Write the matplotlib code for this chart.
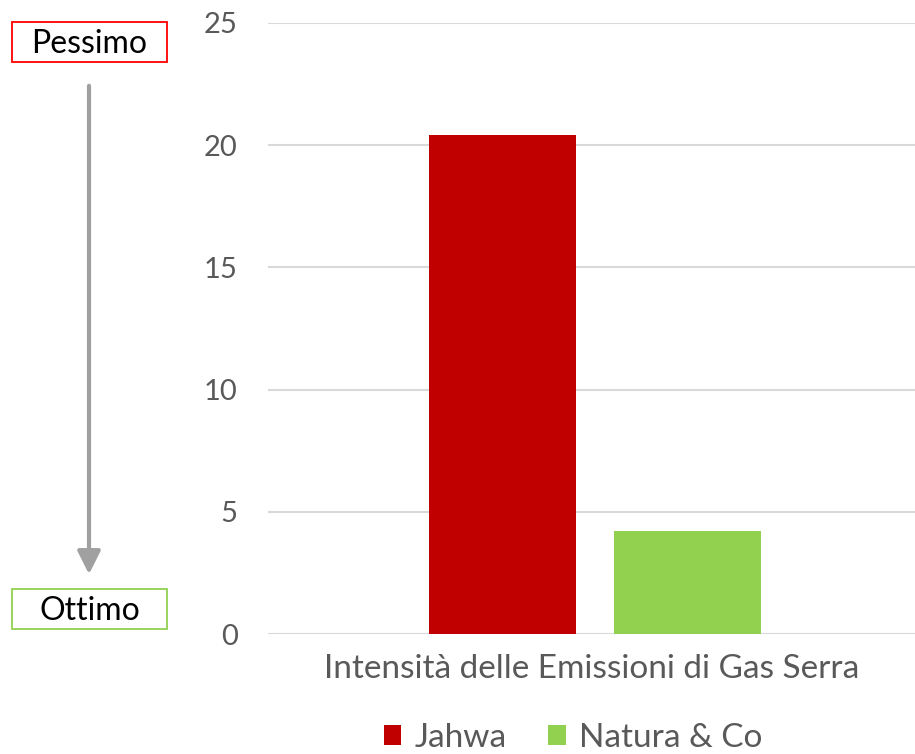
import matplotlib.pyplot as plt
from matplotlib.patches import FancyArrowPatch, Rectangle

plt.rcParams['font.family'] = ['Lato', 'DejaVu Sans']

category = 'Intensità delle Emissioni di Gas Serra'
companies = ['Jahwa', 'Natura & Co']
values = [20.4, 4.2]
colors = ['#c00000', '#92d050']
yticks = [0, 5, 10, 15, 20, 25]

W, H = 915, 754
fig = plt.figure(figsize=(9.15, 7.54), dpi=100)
ax = fig.add_axes([0.293, 0.159, 0.707, 0.8105])

w = 0.227
offsets = [-0.138, 0.148]
for name, v, c, o in zip(companies, values, colors, offsets):
    ax.bar(o, v, width=w, color=c, label=name, zorder=3)

ax.set_xlim(-0.5, 0.5)
ax.set_ylim(0, 25)
ax.set_yticks(yticks)
ax.set_xticks([0])
ax.set_xticklabels([category])
ax.tick_params(axis='y', length=0, pad=22, labelsize=21, labelcolor='#595959')
ax.tick_params(axis='x', length=0, pad=14, labelsize=24, labelcolor='#595959')
ax.grid(axis='y', color='#d9d9d9', lw=1.5, zorder=0)
for s in ax.spines.values():
    s.set_visible(False)

fig.legend(loc='center', bbox_to_anchor=(573 / W, 1 - 738 / H), ncol=2,
           frameon=False, fontsize=24, labelcolor='#595959', handlelength=0.52,
           handleheight=0.52, handletextpad=0.4, columnspacing=1.25)

# Pessimo / Ottimo boxes and arrow
for label, ec, y0, y1 in [('Pessimo', '#ff0000', 22, 62), ('Ottimo', '#92d050', 589, 629)]:
    fig.patches.append(Rectangle((12 / W, 1 - y1 / H), 155 / W, (y1 - y0) / H,
                                 transform=fig.transFigure, fc='white', ec=ec, lw=1.3))
    fig.text(89.5 / W, 1 - ((y0 + y1) / 2 + 2) / H, label, ha='center', va='center',
             fontsize=23, color='black')

arrow = FancyArrowPatch((89 / W, 1 - 83 / H), (89 / W, 1 - 577 / H),
                        transform=fig.transFigure, arrowstyle='-|>,head_length=7,head_width=3.5',
                        color='#a0a0a0', lw=3, mutation_scale=2)
fig.patches.append(arrow)

fig.savefig('out.png', dpi=100)
